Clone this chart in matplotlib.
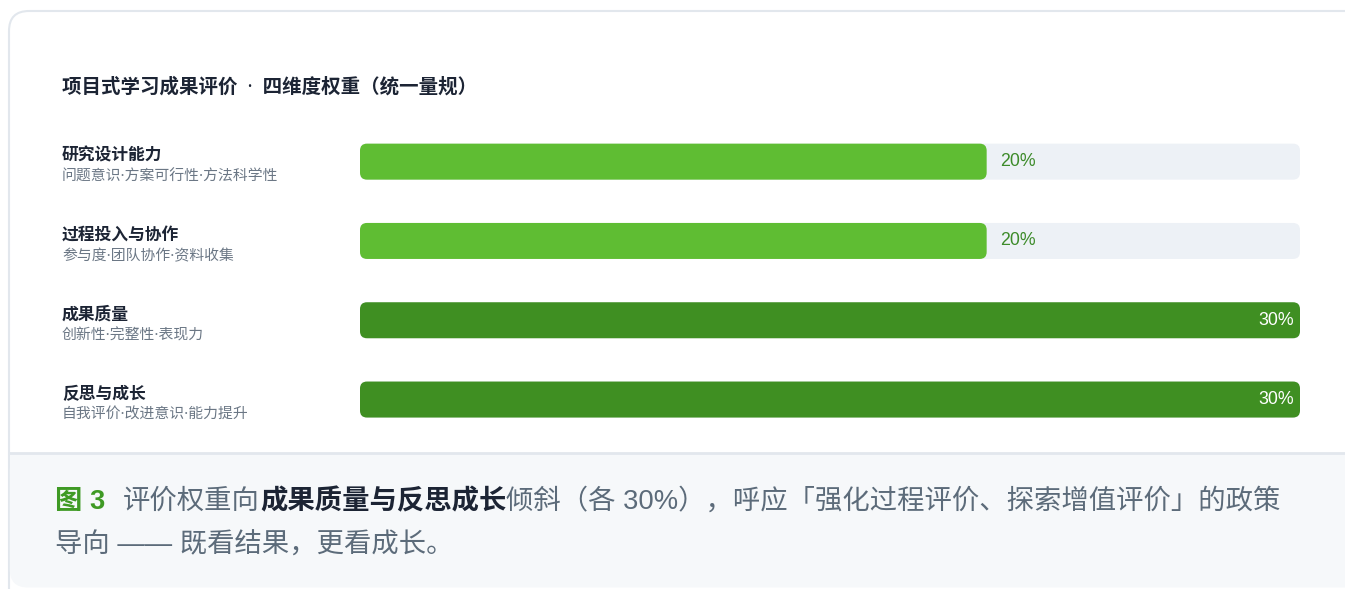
import matplotlib
matplotlib.use("Agg")
import matplotlib.pyplot as plt
import matplotlib.transforms as mtransforms
from matplotlib.patches import FancyBboxPatch

plt.rcParams["font.family"] = ["Noto Sans CJK SC", "DejaVu Sans"]
LATIN_FIRST = ["Liberation Sans", "Noto Sans CJK SC"]

# data
title = "项目式学习成果评价  ·  四维度权重（统一量规）"
dims = ["研究设计能力", "过程投入与协作", "成果质量", "反思与成长"]
subs = ["问题意识·方案可行性·方法科学性", "参与度·团队协作·资料收集",
        "创新性·完整性·表现力", "自我评价·改进意识·能力提升"]
weights = [20, 20, 30, 30]
scale_max = 30

caption_1 = [("图 3", "fig"), ("评价权重向", "plain"), ("成果质量与反思成长", "bold"),
             ("倾斜（各 30%），呼应「强化过程评价、探索增值评价」的政策", "plain")]
caption_2 = "导向 —— 既看结果，更看成长。"

# colours
LIGHT_GREEN = "#5fbd33"
DARK_GREEN = "#3f8f22"
TRACK = "#edf1f6"
INK = "#1c2434"
GREY = "#6b7785"
CAP_GREY = "#5c6b7a"
CAP_GREEN = "#3f9a24"
BORDER = "#e2e7ed"
CAP_BG = "#f6f8fa"

W, H = 1345, 589
fig = plt.figure(figsize=(W / 100, H / 100), dpi=100)
fig.patch.set_facecolor("white")

# background axes in pixel units
bg = fig.add_axes([0, 0, 1, 1])
bg.set_xlim(0, W)
bg.set_ylim(H, 0)
bg.axis("off")

card = FancyBboxPatch((9, 11), 1360, 600, boxstyle="round,pad=0,rounding_size=20",
                      fc="white", ec=BORDER, lw=1.5)
bg.add_patch(card)
cap_bg = FancyBboxPatch((9.8, 453), 1360, 134.5, boxstyle="round,pad=0,rounding_size=18",
                        fc=CAP_BG, ec="none")
bg.add_patch(cap_bg)
bg.add_patch(plt.Rectangle((9.8, 453), 1360, 20, fc=CAP_BG, ec="none"))
bg.plot([9.8, W], [453, 453], color=BORDER, lw=2)

bg.text(62, 88, title, fontsize=14, fontweight="bold", color=INK, va="center", ha="left",
        family=["Noto Sans", "Noto Sans CJK SC"])

# bar axes
x0, x1 = 360, 1300
row_px = 79.3
top = 122
ax = fig.add_axes([x0 / W, 1 - (top + row_px * len(dims)) / H,
                   (x1 - x0) / W, row_px * len(dims) / H])
ax.set_xlim(0, scale_max)
ax.set_ylim(len(dims) - 0.5, -0.5)
ax.axis("off")
ax.patch.set_alpha(0)

px_x = (x1 - x0) / scale_max
px_y = row_px
bar_h = 36 / px_y
r_px = 7


def rounded_bar(y, width, color):
    p = FancyBboxPatch((0, y - bar_h / 2), width, bar_h,
                       boxstyle=f"round,pad=0,rounding_size={r_px / px_x}",
                       mutation_aspect=px_x / px_y, fc=color, ec="none")
    ax.add_patch(p)


lab_tr = mtransforms.blended_transform_factory(bg.transData, ax.transData)
for i, (name, sub, w) in enumerate(zip(dims, subs, weights)):
    rounded_bar(i, scale_max, TRACK)
    full = w >= scale_max
    rounded_bar(i, w, DARK_GREEN if full else LIGHT_GREEN)
    if full:
        ax.annotate(f"{w}%", (w, i), xytext=(-6, 0), textcoords="offset pixels",
                    ha="right", va="center", fontsize=12.8, color="white",
                    family=LATIN_FIRST)
    else:
        ax.annotate(f"{w}%", (w, i), xytext=(13, 0), textcoords="offset pixels",
                    ha="left", va="center", fontsize=12.8, color="#3d8b2a",
                    family=LATIN_FIRST)
    bg.text(62, i - 6 / px_y, name, transform=lab_tr, fontsize=12.1,
            fontweight="bold", color=INK, va="center", ha="left")
    bg.text(62, i + 16 / px_y, sub, transform=lab_tr, fontsize=10.7,
            color=GREY, va="center", ha="left", family=["Noto Sans", "Noto Sans CJK SC"])

# caption
styles = {"fig": dict(color=CAP_GREEN, fontweight="bold"),
          "plain": dict(color=CAP_GREY),
          "bold": dict(color=INK, fontweight="bold")}
cap_fs = 19.7
prev = None
for k, (txt, st) in enumerate(caption_1):
    if prev is None:
        prev = bg.text(55, 502, txt, fontsize=cap_fs, va="center", ha="left",
                       family=LATIN_FIRST, **styles[st])
    else:
        gap = 18 if k == 1 else 0
        prev = bg.annotate(txt, xy=(1, 0), xycoords=prev, xytext=(gap, 0),
                           textcoords="offset pixels", fontsize=cap_fs,
                           va="bottom", ha="left", family=LATIN_FIRST, **styles[st])
bg.text(55, 546, caption_2, fontsize=cap_fs, va="center", ha="left", color=CAP_GREY,
        family=LATIN_FIRST)

fig.savefig("out.png", dpi=100)
